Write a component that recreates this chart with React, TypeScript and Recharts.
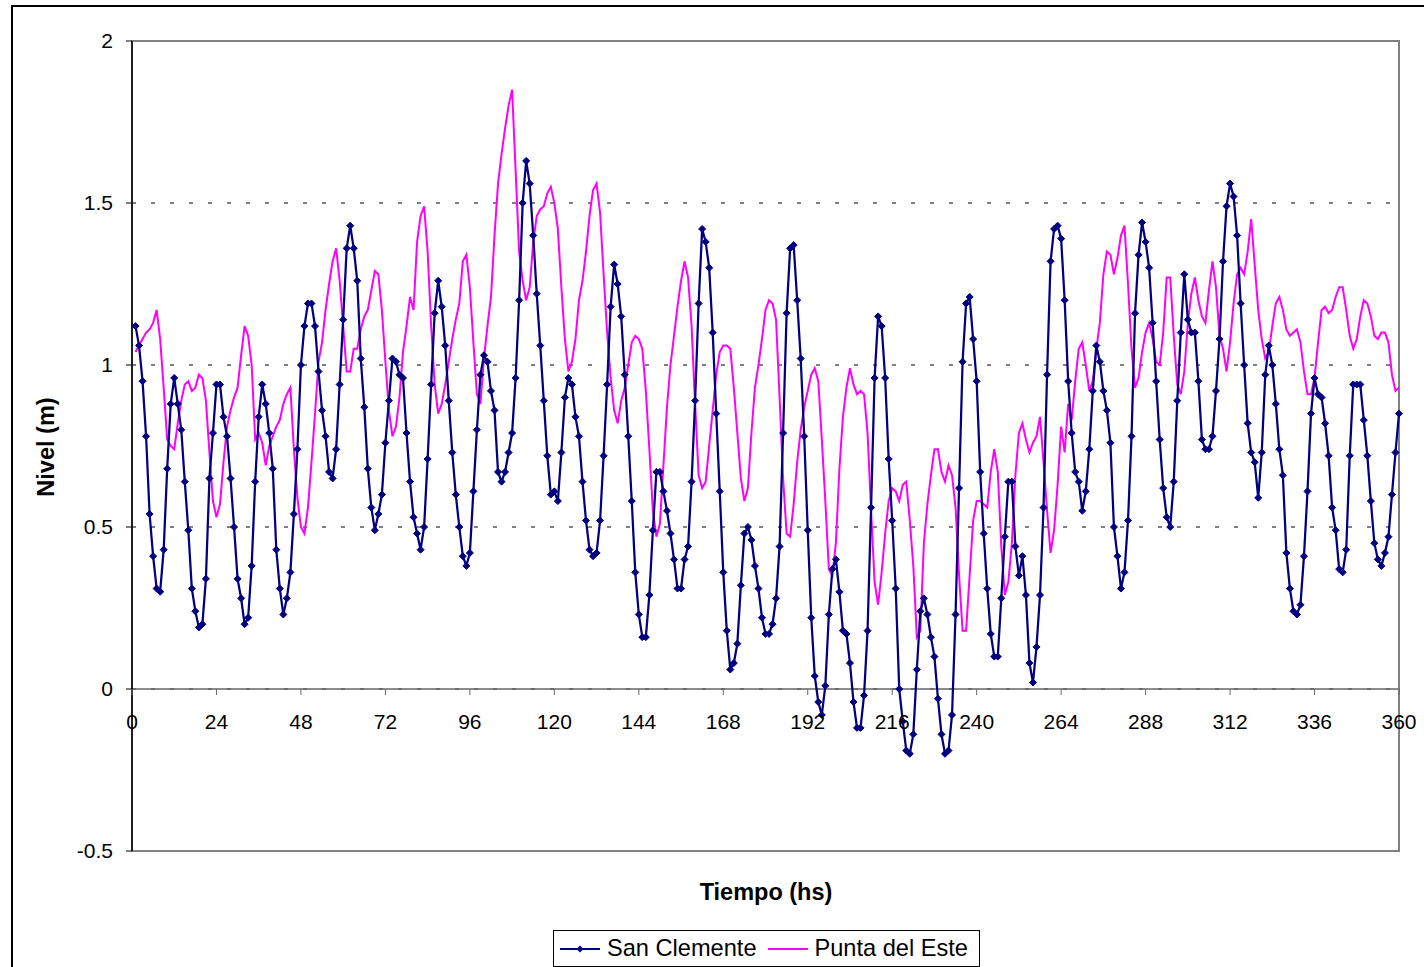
import React from "react";
import {
  LineChart,
  Line,
  XAxis,
  YAxis,
  CartesianGrid,
  ReferenceLine,
  ReferenceArea,
} from "recharts";

// hours 1..360
const hours = Array.from({ length: 360 }, (_, i) => i + 1);

const sanClemente = [
  1.12, 1.06, 0.95, 0.78, 0.54, 0.41, 0.31, 0.3, 0.43, 0.68,
  0.88, 0.96, 0.88, 0.8, 0.64, 0.49, 0.31, 0.24, 0.19, 0.2,
  0.34, 0.65, 0.79, 0.94, 0.94, 0.84, 0.78, 0.65, 0.5, 0.34,
  0.28, 0.2, 0.22, 0.38, 0.64, 0.84, 0.94, 0.88, 0.79, 0.68,
  0.43, 0.31, 0.23, 0.28, 0.36, 0.54, 0.74, 1.0, 1.12, 1.19,
  1.19, 1.12, 0.98, 0.86, 0.78, 0.67, 0.65, 0.74, 0.94, 1.14,
  1.36, 1.43, 1.36, 1.26, 1.02, 0.87, 0.68, 0.56, 0.49, 0.54,
  0.6, 0.76, 0.89, 1.02, 1.01, 0.97, 0.96, 0.79, 0.64, 0.53,
  0.48, 0.43, 0.5, 0.71, 0.94, 1.16, 1.26, 1.18, 1.06, 0.89,
  0.73, 0.6, 0.5, 0.41, 0.38, 0.42, 0.61, 0.8, 0.97, 1.03,
  1.01, 0.92, 0.86, 0.67, 0.64, 0.67, 0.73, 0.79, 0.96, 1.2,
  1.5, 1.63, 1.56, 1.4, 1.22, 1.06, 0.89, 0.72, 0.6, 0.61,
  0.58, 0.73, 0.9, 0.96, 0.94, 0.84, 0.78, 0.64, 0.52, 0.43,
  0.41, 0.42, 0.52, 0.72, 0.94, 1.18, 1.31, 1.25, 1.15, 0.97,
  0.78, 0.58, 0.36, 0.23, 0.16, 0.16, 0.29, 0.49, 0.67, 0.67,
  0.61, 0.55, 0.48, 0.4, 0.31, 0.31, 0.4, 0.44, 0.64, 0.89,
  1.19, 1.42, 1.38, 1.3, 1.1, 0.85, 0.61, 0.36, 0.18, 0.06,
  0.08, 0.14, 0.32, 0.48, 0.5, 0.46, 0.38, 0.31, 0.22, 0.17,
  0.17, 0.2, 0.28, 0.44, 0.79, 1.16, 1.36, 1.37, 1.2, 1.02,
  0.78, 0.49, 0.22, 0.04, -0.04, -0.08, 0.01, 0.23, 0.37, 0.4,
  0.3, 0.18, 0.17, 0.08, -0.04, -0.12, -0.12, -0.02, 0.18, 0.56,
  0.96, 1.15, 1.12, 0.96, 0.71, 0.52, 0.31, 0.0, -0.1, -0.19,
  -0.2, -0.14, 0.06, 0.24, 0.28, 0.23, 0.16, 0.1, -0.03, -0.14,
  -0.2, -0.19, -0.08, 0.23, 0.62, 1.01, 1.19, 1.21, 1.08, 0.95,
  0.67, 0.48, 0.31, 0.17, 0.1, 0.1, 0.28, 0.47, 0.64, 0.64,
  0.44, 0.35, 0.41, 0.29, 0.08, 0.02, 0.13, 0.29, 0.56, 0.97,
  1.32, 1.42, 1.43, 1.39, 1.2, 0.95, 0.79, 0.67, 0.64, 0.55,
  0.61, 0.74, 0.92, 1.06, 1.01, 0.92, 0.86, 0.76, 0.5, 0.41,
  0.31, 0.36, 0.52, 0.78, 1.16, 1.34, 1.44, 1.38, 1.3, 1.13,
  0.95, 0.77, 0.62, 0.53, 0.5, 0.64, 0.89, 1.1, 1.28, 1.14,
  1.1, 1.1, 0.95, 0.77, 0.74, 0.74, 0.78, 0.92, 1.08, 1.32,
  1.49, 1.56, 1.52, 1.4, 1.19, 1.0, 0.82, 0.73, 0.7, 0.59,
  0.73, 0.97, 1.06, 1.0, 0.88, 0.74, 0.66, 0.42, 0.31, 0.24,
  0.23, 0.26, 0.41, 0.61, 0.85, 0.96, 0.91, 0.9, 0.82, 0.72,
  0.56, 0.49, 0.37, 0.36, 0.43, 0.72, 0.94, 0.94, 0.94, 0.83,
  0.72, 0.58, 0.45, 0.4, 0.38, 0.42, 0.47, 0.6, 0.73, 0.85,
];

const puntaDelEste = [
  1.04, 1.06, 1.08, 1.1, 1.11, 1.13, 1.17, 1.08, 0.93, 0.77,
  0.75, 0.74, 0.82, 0.89, 0.94, 0.95, 0.92, 0.93, 0.97, 0.96,
  0.89, 0.73, 0.58, 0.53, 0.57, 0.7, 0.81, 0.86, 0.9, 0.93,
  1.03, 1.12, 1.09, 1.0, 0.77, 0.79, 0.76, 0.69, 0.75, 0.78,
  0.81, 0.83, 0.88, 0.91, 0.93, 0.74, 0.59, 0.5, 0.48, 0.56,
  0.7, 0.85, 1.01, 1.07, 1.17, 1.25, 1.32, 1.36, 1.26, 1.12,
  0.98, 0.98, 1.05, 1.05, 1.11, 1.15, 1.17, 1.23, 1.29, 1.28,
  1.17, 1.01, 0.86, 0.78, 0.81, 0.9, 1.04, 1.12, 1.21, 1.17,
  1.38, 1.46, 1.49, 1.35, 1.12, 0.94, 0.85, 0.88, 0.94, 1.01,
  1.08, 1.14, 1.19, 1.32, 1.34, 1.24, 1.07, 0.91, 0.88, 1.02,
  1.12, 1.21, 1.4, 1.56, 1.65, 1.73, 1.8, 1.85, 1.6, 1.35,
  1.26, 1.2, 1.24, 1.38, 1.46, 1.48, 1.49, 1.53, 1.55, 1.5,
  1.42, 1.24, 1.08, 0.98, 1.01, 1.08, 1.2, 1.26, 1.35, 1.46,
  1.54, 1.56, 1.47, 1.28, 1.1, 0.96, 0.86, 0.82, 0.89, 0.93,
  1.0, 1.07, 1.09, 1.08, 1.05, 0.92, 0.74, 0.55, 0.47, 0.51,
  0.69, 0.87, 1.0, 1.09, 1.18, 1.26, 1.32, 1.27, 1.12, 0.88,
  0.66, 0.62, 0.64, 0.75, 0.86, 0.97, 1.04, 1.06, 1.06, 1.05,
  0.93, 0.79, 0.65, 0.58, 0.62, 0.79, 0.93, 1.0, 1.08, 1.17,
  1.2, 1.19, 1.14, 0.9, 0.65, 0.48, 0.47, 0.57, 0.7, 0.8,
  0.87, 0.92, 0.97, 0.99, 0.95, 0.77, 0.58, 0.37, 0.35, 0.45,
  0.68, 0.84, 0.93, 0.99, 0.94, 0.91, 0.92, 0.91, 0.79, 0.55,
  0.33, 0.26, 0.36, 0.48, 0.58, 0.62, 0.61, 0.58, 0.63, 0.64,
  0.52, 0.38, 0.16, 0.18, 0.45, 0.57, 0.66, 0.74, 0.74, 0.67,
  0.64, 0.69, 0.66, 0.56, 0.35, 0.18, 0.18, 0.35, 0.52, 0.58,
  0.58, 0.57, 0.56, 0.67, 0.74, 0.67, 0.44, 0.29, 0.33, 0.45,
  0.66, 0.79, 0.82, 0.77, 0.73, 0.76, 0.78, 0.84, 0.7, 0.55,
  0.42, 0.49, 0.63, 0.81, 0.73, 0.88, 0.83, 0.95, 1.05, 1.07,
  1.0, 0.92, 0.95, 1.05, 1.13, 1.28, 1.35, 1.34, 1.28, 1.33,
  1.4, 1.43, 1.25, 1.05, 0.93, 0.96, 1.04, 1.1, 1.13, 1.08,
  1.01, 1.0, 1.1, 1.27, 1.27, 1.09, 0.94, 0.91, 0.98, 1.13,
  1.22, 1.27, 1.2, 1.15, 1.13, 1.23, 1.32, 1.24, 1.09, 1.05,
  0.98, 1.07, 1.19, 1.28, 1.3, 1.28, 1.35, 1.45, 1.31, 1.17,
  1.08, 1.02, 1.04, 1.12, 1.19, 1.21, 1.17, 1.11, 1.09, 1.1,
  1.11, 1.07, 0.98, 0.91, 0.91, 0.96, 1.07, 1.17, 1.18, 1.16,
  1.17, 1.21, 1.24, 1.24, 1.17, 1.09, 1.05, 1.08, 1.15, 1.2,
  1.19, 1.15, 1.09, 1.08, 1.1, 1.1, 1.07, 0.97, 0.92, 0.93,
];

const xTicks = [0, 24, 48, 72, 96, 120, 144, 168, 192, 216, 240, 264, 288, 312, 336, 360];
const yTicks = [-0.5, 0, 0.5, 1, 1.5, 2];

const data = hours.map((h, i) => ({
  h,
  sc: sanClemente[i],
  pe: puntaDelEste[i],
}));

const FONT = "'Liberation Sans', Arial, sans-serif";
const NAVY = "#000080";
const MAGENTA = "#FF00FF";

const CHART_W = 1416;
const CHART_H = 959;
const Y_AXIS_W = 80;
const X_AXIS_H = 30;
const MARGIN = { top: 33, right: 25, bottom: 86, left: 44 };
const PLOT_H = CHART_H - MARGIN.top - MARGIN.bottom - X_AXIS_H;
const Y_MIN = -0.5;
const Y_MAX = 2;
// distance from plot bottom up to the zero line
const ZERO_OFFSET = (PLOT_H * (0 - Y_MIN)) / (Y_MAX - Y_MIN);

const XTick = (props: any) => {
  const { x, y, payload } = props;
  const y0 = y - ZERO_OFFSET;
  return (
    <g>
      <line x1={x} y1={y0} x2={x} y2={y0 + 6} stroke="#666" strokeWidth={1} />
      <text
        x={x}
        y={y0 + 40}
        textAnchor="middle"
        fontSize={21}
        fontFamily={FONT}
        fill="#000"
      >
        {payload.value}
      </text>
    </g>
  );
};

const Diamond = (props: any) => {
  const { cx, cy } = props;
  if (cx == null || cy == null) return null;
  const r = 3.5;
  return (
    <path
      d={`M${cx},${cy - r}L${cx + r},${cy}L${cx},${cy + r}L${cx - r},${cy}Z`}
      fill={NAVY}
      stroke={NAVY}
      strokeWidth={1}
    />
  );
};

const LegendBox = () => (
  <div
    style={{
      position: "absolute",
      left: 545,
      top: 922,
      width: 427,
      height: 37,
      border: "1px solid #000",
      boxSizing: "border-box",
      background: "#fff",
      display: "flex",
      alignItems: "center",
      fontFamily: FONT,
      fontSize: 23.6,
      color: "#000",
      whiteSpace: "nowrap",
    }}
  >
    <svg width={40} height={20} style={{ marginLeft: 6, flex: "none" }}>
      <line x1={0} y1={10} x2={40} y2={10} stroke={NAVY} strokeWidth={2} />
      <path d="M20,6.5L23.5,10L20,13.5L16.5,10Z" fill={NAVY} />
    </svg>
    <span style={{ marginLeft: 7 }}>San Clemente</span>
    <svg width={40} height={20} style={{ marginLeft: 11, flex: "none" }}>
      <line x1={0} y1={10} x2={40} y2={10} stroke={MAGENTA} strokeWidth={2} />
    </svg>
    <span style={{ marginLeft: 7 }}>Punta del Este</span>
  </div>
);

export default function App() {
  return (
    <div
      style={{
        position: "relative",
        width: CHART_W,
        height: CHART_H,
        fontFamily: FONT,
      }}
    >
      <LineChart width={CHART_W} height={CHART_H} data={data} margin={MARGIN}>
        <CartesianGrid
          vertical={false}
          stroke="#000"
          strokeDasharray="4 15"
          strokeWidth={1}
        />
        <ReferenceArea
          x1={0}
          x2={360}
          y1={Y_MIN}
          y2={Y_MAX}
          fill="none"
          fillOpacity={0}
          stroke="#808080"
          strokeWidth={2}
        />
        <ReferenceLine y={0} stroke="#666" strokeWidth={1.5} />
        <XAxis
          dataKey="h"
          type="number"
          domain={[0, 360]}
          ticks={xTicks}
          interval={0}
          height={X_AXIS_H}
          axisLine={false}
          tickLine={false}
          tickSize={0}
          tickMargin={0}
          tick={<XTick />}
        />
        <YAxis
          type="number"
          domain={[Y_MIN, Y_MAX]}
          ticks={yTicks}
          interval={0}
          width={Y_AXIS_W}
          axisLine={{ stroke: "#000", strokeWidth: 1.5 }}
          tickLine={{ stroke: "#000" }}
          tickSize={6}
          tickMargin={13}
          tick={{ fontSize: 21, fill: "#000", fontFamily: FONT }}
        />
        <Line
          type="linear"
          dataKey="pe"
          stroke={MAGENTA}
          strokeWidth={2}
          dot={false}
          activeDot={false}
          isAnimationActive={false}
        />
        <Line
          type="linear"
          dataKey="sc"
          stroke={NAVY}
          strokeWidth={2.25}
          dot={(p: any) => <Diamond key={`d-${p.index}`} {...p} />}
          activeDot={false}
          isAnimationActive={false}
        />
      </LineChart>
      <div
        style={{
          position: "absolute",
          left: 38 - 100,
          top: 439 - 15,
          width: 200,
          height: 30,
          transform: "rotate(-90deg)",
          textAlign: "center",
          fontWeight: "bold",
          fontSize: 23.5,
          lineHeight: "30px",
        }}
      >
        Nivel (m)
      </div>
      <div
        style={{
          position: "absolute",
          left: 758 - 150,
          top: 884 - 15,
          width: 300,
          height: 30,
          textAlign: "center",
          fontWeight: "bold",
          fontSize: 23.5,
          lineHeight: "30px",
        }}
      >
        Tiempo (hs)
      </div>
      <LegendBox />
      <div
        style={{
          position: "fixed",
          left: 11,
          top: 5,
          width: 1430,
          height: 980,
          borderTop: "2px solid #000",
          borderLeft: "2px solid #000",
          boxSizing: "border-box",
          pointerEvents: "none",
        }}
      />
    </div>
  );
}
